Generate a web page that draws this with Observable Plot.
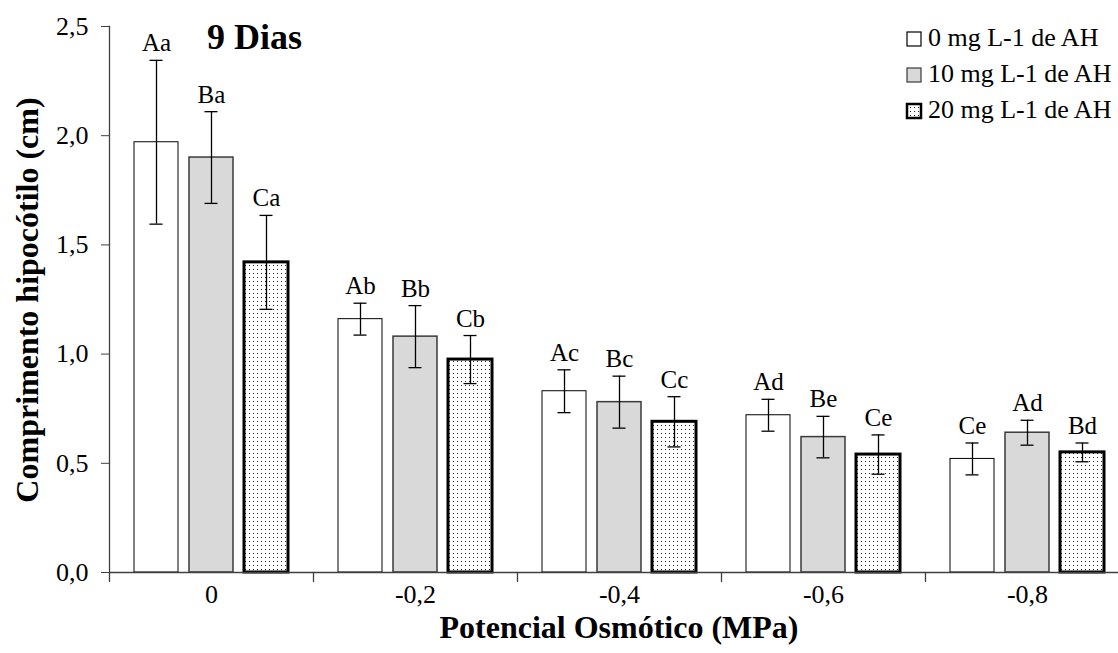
<!DOCTYPE html>
<html><head><meta charset="utf-8">
<script src="https://cdn.jsdelivr.net/npm/d3@7"></script>
<script src="https://cdn.jsdelivr.net/npm/@observablehq/plot@0.6"></script>
<style>
body{margin:0;background:#fff;}
#wrap{position:relative;width:1118px;height:653px;overflow:hidden;font-family:"Liberation Serif","Times New Roman",serif;color:#000;}
#chart svg{display:block;}
.t{position:absolute;white-space:nowrap;line-height:1;}
#dias{left:207px;top:19px;font-size:36px;font-weight:bold;}
#xtitle{left:619px;top:611px;font-size:32px;font-weight:bold;transform:translateX(-50%);}
#ytitle{left:27px;top:300px;font-size:32px;font-weight:bold;transform:translate(-50%,-50%) rotate(-90deg);}
.lg{position:absolute;left:907px;font-size:26px;line-height:1;white-space:nowrap;}
.lg svg{position:absolute;left:0;}
.lg span{position:absolute;left:21px;top:0;}
</style></head><body>
<div id="wrap">
<div id="chart"></div>
<div class="t" id="dias">9 Dias</div>
<div class="t" id="ytitle">Comprimento hipocótilo (cm)</div>
<div class="t" id="xtitle">Potencial Osmótico (MPa)</div>
<div id="legend"></div>
</div>
<script>
// ---- data ----
const groups = ["0", "-0,2", "-0,4", "-0,6", "-0,8"];
const series = ["0 mg L-1 de AH", "10 mg L-1 de AH", "20 mg L-1 de AH"];
const mean0  = [1.97, 1.16, 0.83, 0.72, 0.52];
const mean10 = [1.90, 1.08, 0.78, 0.62, 0.64];
const mean20 = [1.42, 0.975, 0.69, 0.54, 0.55];
const err0   = [0.375, 0.073, 0.098, 0.073, 0.073];
const err10  = [0.21, 0.142, 0.119, 0.095, 0.057];
const err20  = [0.215, 0.11, 0.115, 0.09, 0.043];
const lab0   = ["Aa", "Ab", "Ac", "Ad", "Ce"];
const lab10  = ["Ba", "Bb", "Bc", "Be", "Ad"];
const lab20  = ["Ca", "Cb", "Cc", "Ce", "Bd"];
const yTicks = [0, 0.5, 1, 1.5, 2, 2.5];

// ---- styles ----
const fills = ["#ffffff", "#d9d9d9", "url(#dots)"];
const strokes = ["#000000", "#3a3a3a", "#000000"];
const strokeWidths = [1, 1.5, 3];

const means = [mean0, mean10, mean20];
const errs = [err0, err10, err20];
const labs = [lab0, lab10, lab20];
const rows = [];
groups.forEach((g, i) => series.forEach((s, j) => rows.push({
  group: g, series: s, value: means[j][i], err: errs[j][i], label: labs[j][i]
})));

const fmt = d => d.toFixed(1).replace(".", ",");
const lineShape = {draw(ctx, l) { ctx.moveTo(0, 0); ctx.lineTo(0, -l); }};

const chart = Plot.plot({
  width: 1118, height: 653,
  marginLeft: 109, marginRight: -11, marginTop: 26, marginBottom: 81,
  style: {fontFamily: "Liberation Serif, Times New Roman, serif", fontSize: "26px", color: "#000", background: "transparent"},
  fx: {domain: groups, padding: 0, label: null},
  x: {domain: series, paddingInner: 0.2, paddingOuter: 0.4545, axis: null},
  y: {domain: [0, 2.5], label: null},
  marks: [
    Plot.axisY({ticks: yTicks, tickFormat: fmt, tickSize: 8, tickPadding: 13, fontSize: 26, stroke: "#404040", label: null}),
    Plot.axisFx({anchor: "bottom", tickSize: 0, tickPadding: 12, fontSize: 26, label: null}),
    ...series.map((s, j) => Plot.barY(rows.filter(r => r.series === s), {
      fx: "group", x: "series", y: "value",
      fill: fills[j], stroke: strokes[j], strokeWidth: strokeWidths[j]
    })),
    Plot.ruleX(rows, {fx: "group", x: "series", y1: d => d.value - d.err, y2: d => d.value + d.err, stroke: "#000", strokeWidth: 1.3}),
    Plot.tickY(rows, {fx: "group", x: "series", y: d => d.value + d.err, insetLeft: 15.5, insetRight: 15.5, stroke: "#000", strokeWidth: 1.3}),
    Plot.tickY(rows, {fx: "group", x: "series", y: d => d.value - d.err, insetLeft: 15.5, insetRight: 15.5, stroke: "#000", strokeWidth: 1.3}),
    Plot.text(rows, {fx: "group", x: "series", y: d => d.value + d.err, text: "label", lineAnchor: "bottom", dy: -9, fontSize: 25, fill: "#000"}),
    Plot.ruleY([0], {stroke: "#404040", strokeWidth: 1.3}),
    Plot.vector([0], {frameAnchor: "bottom-left", length: 9, rotate: 180, anchor: "start", shape: lineShape, stroke: "#404040", strokeWidth: 1.3}),
    Plot.frame({anchor: "left", facet: "super", stroke: "#404040", strokeWidth: 1.3})
  ]
});

// dotted pattern for the 20 mg series
const defs = d3.select(chart).insert("defs", ":first-child");
const pat = defs.append("pattern").attr("id", "dots").attr("width", 4).attr("height", 4).attr("patternUnits", "userSpaceOnUse");
pat.append("rect").attr("width", 4).attr("height", 4).attr("fill", "#fff");
pat.append("rect").attr("x", 1).attr("y", 1).attr("width", 1).attr("height", 1).attr("fill", "#222");

document.getElementById("chart").appendChild(chart);

// legend
const legend = document.getElementById("legend");
series.forEach((s, j) => {
  const row = document.createElement("div");
  row.className = "lg";
  row.style.top = (25 + 36 * j) + "px";
  const sw = 14;
  row.innerHTML = `<svg width="${sw + 4}" height="${sw + 4}" style="top:5px;left:-2px">
    <defs><pattern id="ldots${j}" width="4" height="4" patternUnits="userSpaceOnUse"><rect width="4" height="4" fill="#fff"/><rect x="1" y="1" width="1" height="1" fill="#222"/></pattern></defs>
    <rect x="2" y="2" width="${sw}" height="${sw}" fill="${j === 2 ? `url(#ldots${j})` : fills[j]}" stroke="${strokes[j]}" stroke-width="${j === 2 ? 2.5 : 1.2}"/></svg><span>${s}</span>`;
  legend.appendChild(row);
});
</script>
</body></html>
